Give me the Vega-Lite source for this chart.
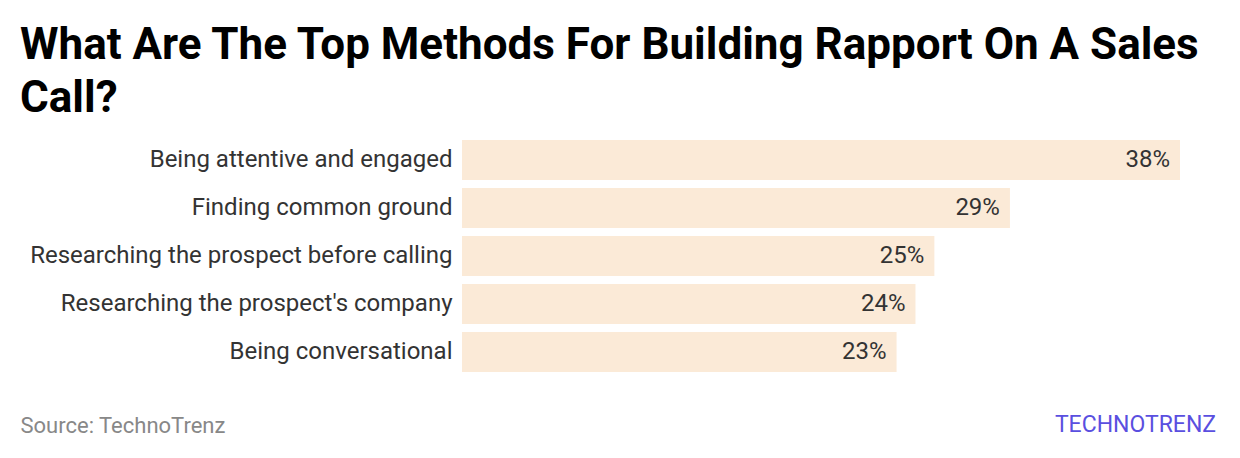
{
  "$schema": "https://vega.github.io/schema/vega-lite/v6.json",
  "width": 718,
  "height": 240,
  "autosize": {"type": "none"},
  "padding": {"left": 462, "top": 136, "right": 60, "bottom": 82},
  "background": "white",
  "config": {"view": {"stroke": null}, "font": "Roboto"},
  "title": {
    "text": ["What Are The Top Methods For Building Rapport On A Sales", "Call?"],
    "anchor": "start",
    "frame": "group",
    "dx": -442,
    "fontSize": 44,
    "lineHeight": 53,
    "fontWeight": "bold",
    "color": "#000000",
    "font": "Roboto",
    "offset": 15
  },
  "data": {
    "values": [
      {"method": "Being attentive and engaged", "value": 0.38},
      {"method": "Finding common ground", "value": 0.29},
      {"method": "Researching the prospect before calling", "value": 0.25},
      {"method": "Researching the prospect's company", "value": 0.24},
      {"method": "Being conversational", "value": 0.23}
    ]
  },
  "encoding": {
    "y": {
      "field": "method",
      "type": "nominal",
      "sort": null,
      "scale": {"paddingInner": 0.1667, "paddingOuter": 0.0833},
      "axis": {
        "title": null,
        "domain": false,
        "ticks": false,
        "labelFontSize": 24,
        "labelColor": "#333333",
        "labelPadding": 10,
        "labelFont": "Roboto",
        "labelLimit": 600
      }
    },
    "x": {
      "field": "value",
      "type": "quantitative",
      "scale": {"domain": [0, 0.38], "nice": false},
      "axis": {
        "domain": false,
        "ticks": false,
        "labels": false,
        "grid": false,
        "title": "Source: TechnoTrenz",
        "titleAnchor": "start",
        "titleAlign": "left",
        "titleX": -442,
        "titleY": 56,
        "titleBaseline": "alphabetic",
        "titleFontSize": 22,
        "titleFontWeight": "normal",
        "titleColor": "#888888",
        "titleFont": "Roboto"
      }
    }
  },
  "layer": [
    {"mark": {"type": "bar", "color": "#fbead7"}},
    {
      "mark": {"type": "text", "align": "right", "baseline": "middle", "dx": -10, "fontSize": 24, "color": "#333333", "font": "Roboto"},
      "encoding": {
        "text": {"field": "value", "type": "quantitative", "format": ".0%"},
        "y": {
          "field": "method",
          "type": "nominal",
          "sort": null,
          "scale": {"paddingInner": 0.1667, "paddingOuter": 0.0833},
          "axis": {
            "orient": "right",
            "title": "TECHNOTRENZ",
            "labels": false,
            "domain": false,
            "ticks": false,
            "titleAngle": 0,
            "titleX": -45,
            "titleY": 288,
            "titleAlign": "center",
            "titleBaseline": "middle",
            "titleFontSize": 23,
            "titleFontWeight": "normal",
            "titleColor": "#5a4fe0",
            "titleFont": "Roboto"
          }
        }
      }
    }
  ],
  "resolve": {"axis": {"y": "independent"}}
}
